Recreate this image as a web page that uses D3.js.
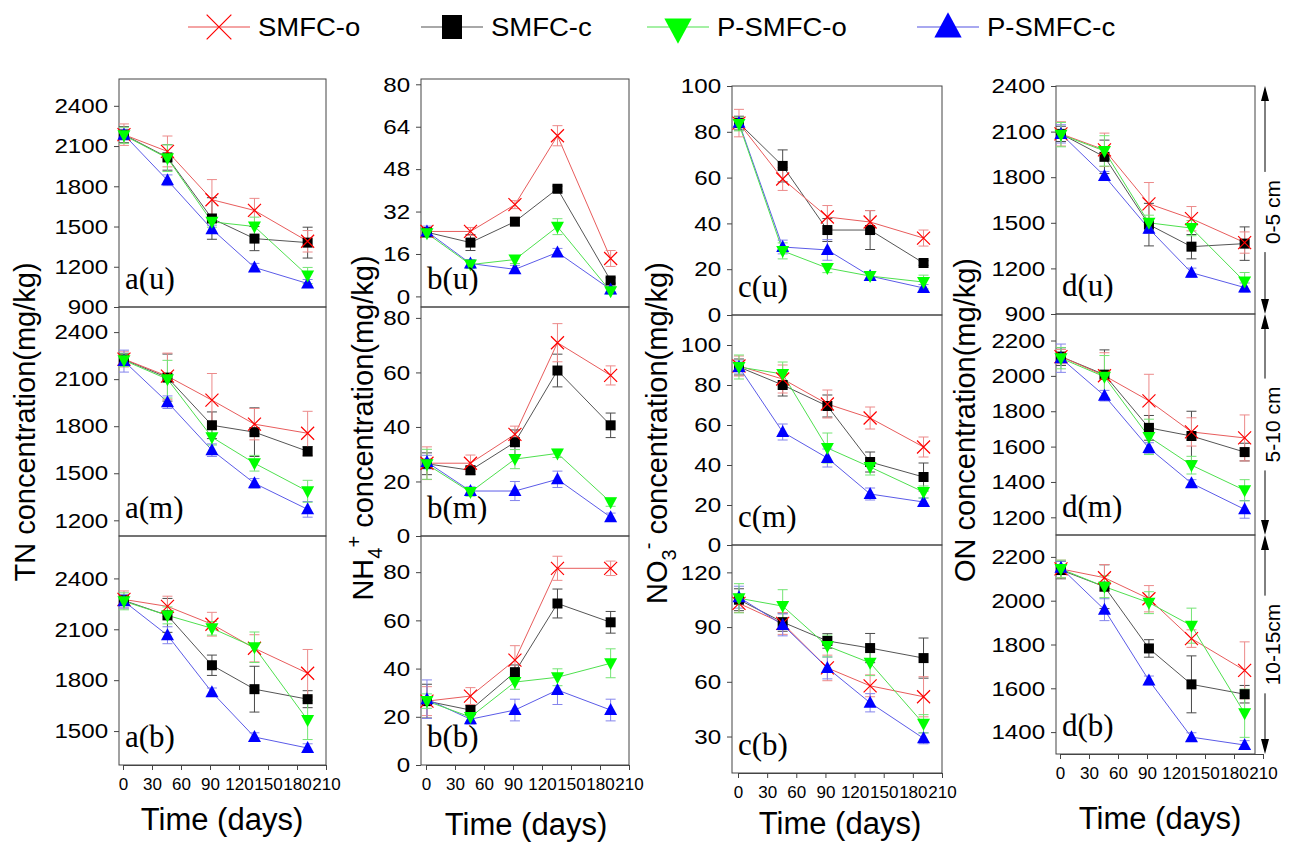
<!DOCTYPE html>
<html>
<head>
<meta charset="utf-8">
<script src="https://cdn.jsdelivr.net/npm/d3@7"></script>
<style>
  body { margin: 0; background: #fff; }
  svg { display: block; font-family: "Liberation Sans", Arial, sans-serif; }
</style>
</head>
<body>
<svg id="chart" width="1291" height="843"></svg>
<script>
// sampling days and series
const days = [1, 46, 92, 136, 191];
const seriesNames = ["SMFC-o", "SMFC-c", "P-SMFC-o", "P-SMFC-c"];
const xTicks = [0, 30, 60, 90, 120, 150, 180, 210];
const depthLabels = ["0-5 cm", "5-10 cm", "10-15cm"];

// TN (mg/kg) — series order: SMFC-o, SMFC-c, P-SMFC-o, P-SMFC-c
const tnU = [[2185, 2060, 1700, 1620, 1390], [2185, 2015, 1560, 1410, 1380], [2180, 2010, 1535, 1500, 1135], [2185, 1845, 1480, 1195, 1075]];
const tnUErr = [[80, 115, 150, 90, 80], [60, 95, 155, 90, 115], [60, 100, 40, 70, 60], [40, 40, 30, 30, 30]];
const tnM = [[2228, 2119, 1966, 1813, 1755], [2225, 2110, 1806, 1762, 1640], [2220, 2100, 1730, 1564, 1385], [2215, 1953, 1647, 1436, 1270]];
const tnMErr = [[50, 147, 170, 100, 140], [40, 150, 85, 155, 30], [40, 120, 50, 50, 70], [70, 40, 40, 30, 50]];
const tnB = [[2276, 2235, 2130, 1988, 1841], [2270, 2182, 1888, 1747, 1688], [2265, 2182, 2106, 1994, 1565], [2265, 2065, 1729, 1465, 1400]];
const tnBErr = [[50, 60, 70, 80, 140], [30, 100, 60, 135, 50], [50, 50, 40, 90, 115], [40, 50, 25, 25, 25]];

// NH4+ (mg/kg)
const nhU = [[24.5, 24.5, 34.6, 60.6, 14.3], [24.2, 20.3, 28.2, 40.6, 6.0], [23.8, 12.0, 13.9, 26.3, 1.9], [24.5, 12.4, 10.2, 16.6, 2.6]];
const nhUErr = [[1.5, 1.5, 1.5, 3.8, 3], [1.5, 3, 1.5, 1, 1], [1.5, 1.5, 1.5, 3, 1], [2, 1.5, 1.5, 1.5, 1]];
const nhM = [[26.7, 26.7, 37.3, 70.9, 58.9], [26.5, 24.1, 34.4, 60.7, 40.6], [26.3, 16.1, 28.2, 30.3, 12.4], [27.1, 16.5, 16.5, 20.8, 6.9]];
const nhMErr = [[6, 3, 3, 7, 3.5], [4, 1.5, 4.5, 6, 4.5], [5.5, 1.5, 3.5, 1.5, 1.5], [2.5, 1.5, 3.5, 3, 1.5]];
const nhB = [[26.5, 28.6, 43.5, 81.6, 81.6], [26.5, 22.8, 38.5, 67.0, 59.2], [26.5, 19.9, 34.4, 36.4, 42.2], [27.3, 19.0, 22.8, 31.1, 22.8]];
const nhBErr = [[6, 3.5, 6, 5, 3], [7, 2, 3, 6, 4.5], [3, 2, 3, 3.5, 6], [8, 2, 4.5, 6, 4.5]];

// NO3- (mg/kg)
const noU = [[83.8, 59.4, 42.8, 40.6, 33.6], [83.8, 65.1, 37.1, 37.1, 22.7], [83.4, 28.0, 20.5, 17.0, 14.4], [84.0, 29.7, 28.4, 17.0, 11.8]];
const noUErr = [[6, 5, 5, 5, 3.5], [3, 7, 5, 8.5, 1], [3, 3.5, 2, 1.5, 3], [2, 3, 4.5, 1.5, 1.5]];
const noM = [[89.5, 83.0, 70.5, 63.5, 49.0], [89.0, 80.0, 69.5, 41.5, 34.0], [89.0, 85.5, 48.5, 39.0, 26.5], [89.0, 56.5, 43.5, 25.5, 21.5]];
const noMErr = [[5, 7, 7, 5.5, 5], [4, 5.5, 5.5, 5, 7], [6, 6, 7.5, 4, 3], [3, 4, 4.5, 3, 2]];
const noB = [[103, 92.0, 67.6, 57.8, 51.8], [105, 92.7, 82.4, 78.5, 73.0], [105.8, 101.5, 79.6, 70.4, 37.0], [106.4, 91.2, 67.6, 48.5, 29.0]];
const noBErr = [[5, 6, 7, 6, 11], [6, 5, 4, 8, 11], [8, 9, 6, 7, 5], [6, 6, 6, 5, 3]];

// ON (mg/kg)
const onU = [[2085, 1980, 1625, 1527, 1370], [2085, 1934, 1488, 1343, 1363], [2080, 1973, 1500, 1465, 1113], [2085, 1808, 1461, 1172, 1074]];
const onUErr = [[80, 110, 140, 80, 70], [50, 110, 140, 80, 110], [80, 100, 50, 50, 60], [60, 30, 30, 30, 30]];
const onM = [[2109, 2001, 1859, 1683, 1649], [2109, 2007, 1706, 1660, 1569], [2100, 1995, 1655, 1495, 1353], [2100, 1888, 1592, 1393, 1245]];
const onMErr = [[40, 130, 150, 80, 130], [50, 140, 70, 140, 50], [60, 120, 100, 50, 60], [80, 30, 30, 20, 50]];
const onB = [[2145, 2105, 2009, 1827, 1682], [2140, 2064, 1782, 1618, 1573], [2145, 2064, 1991, 1886, 1486], [2150, 1959, 1636, 1377, 1341]];
const onBErr = [[40, 60, 60, 40, 130], [40, 100, 40, 130, 40], [40, 50, 50, 80, 110], [30, 50, 20, 20, 20]];

// y tick labels per panel
const tnTicks = [[900, 1200, 1500, 1800, 2100, 2400], [1200, 1500, 1800, 2100, 2400], [1500, 1800, 2100, 2400]];
const nhTicks = [[0, 16, 32, 48, 64, 80], [0, 20, 40, 60, 80], [0, 20, 40, 60, 80]];
const noTicks = [[0, 20, 40, 60, 80, 100], [0, 20, 40, 60, 80, 100], [30, 60, 90, 120]];
const onTicks = [[900, 1200, 1500, 1800, 2100, 2400], [1200, 1400, 1600, 1800, 2000, 2200], [1400, 1600, 1800, 2000, 2200]];

// ---- layout ----
const columns = [
  { x0: 123, x1: 326, left: 119, right: 326, rows: [[79, 307], [307, 536], [536, 765]],
    domains: [[900, 2600], [1100, 2560], [1300, 2650]], letter: "a", titleX: 35, titleY: 422, timeX: 222, timeY: 830 },
  { x0: 426, x1: 629, left: 421, right: 629, rows: [[79, 307], [307, 536], [536, 765]],
    domains: [[-4, 82], [0, 84], [0, 95]], letter: "b", titleX: 373, titleY: 428, timeX: 526, timeY: 835 },
  { x0: 738, x1: 942, left: 732, right: 942, rows: [[86, 315], [315, 545], [545, 773]],
    domains: [[0, 100], [0, 115], [10, 135]], letter: "c", titleX: 667, titleY: 433, timeX: 840, timeY: 834 },
  { x0: 1060, x1: 1263, left: 1056, right: 1255, rows: [[86, 314], [314, 535], [535, 754]],
    domains: [[900, 2400], [1100, 2350], [1300, 2300]], letter: "d", titleX: 975, titleY: 420, timeX: 1160, timeY: 829 }
];
const means = [[tnU, tnM, tnB], [nhU, nhM, nhB], [noU, noM, noB], [onU, onM, onB]];
const errs = [[tnUErr, tnMErr, tnBErr], [nhUErr, nhMErr, nhBErr], [noUErr, noMErr, noBErr], [onUErr, onMErr, onBErr]];
const ticks = [tnTicks, nhTicks, noTicks, onTicks];
const rowTags = ["u", "m", "b"];

const yTitles = [
  [["TN concentration(mg/kg)", 0]],
  [["NH", 0], ["4", 1], ["+", -1], [" concentration(mg/kg)", 0]],
  [["NO", 0], ["3", 1], ["-", -1], [" concentration(mg/kg)", 0]],
  [["ON concentration(mg/kg)", 0]]
];

const markerColor = ["#ff0000", "#000000", "#00ff00", "#0000ff"];
const lineColor = ["#e85c5c", "#555555", "#4fe04f", "#5b5be8"];
const errColor = ["#ec8a8a", "#4a4a4a", "#74e474", "#8484ec"];
const legendLine = ["#f4a4a4", "#a8a8a8", "#a4f0a4", "#a8a8f0"];

function markerPath(s, k) {
  k = k || 1;
  if (s === 0) { const a = 6.5 * k; return `M${-a},${-a}L${a},${a}M${-a},${a}L${a},${-a}`; }
  if (s === 1) { const a = 5 * k; return `M${-a},${-a}H${a}V${a}H${-a}Z`; }
  if (s === 2) return `M0,${7 * k}L${6.5 * k},${-5 * k}L${-6.5 * k},${-5 * k}Z`;
  return `M0,${-7 * k}L${6.5 * k},${5 * k}L${-6.5 * k},${5 * k}Z`;
}

function styleMarker(sel, s) {
  if (s === 0) sel.attr("fill", "none").attr("stroke", markerColor[s]).attr("stroke-width", 1.2);
  else sel.attr("fill", markerColor[s]).attr("stroke", "none");
}

const svg = d3.select("#chart");
const drawOrder = [1, 0, 3, 2];

columns.forEach((col, c) => {
  const x = d3.scaleLinear().domain([0, 210]).range([col.x0, col.x1]);

  col.rows.forEach(([top, bot], r) => {
    const y = d3.scaleLinear().domain(col.domains[r]).range([bot, top]);
    const g = svg.append("g");

    g.append("rect")
      .attr("x", col.left).attr("y", top)
      .attr("width", col.right - col.left).attr("height", bot - top)
      .attr("fill", "none").attr("stroke", "#444").attr("stroke-width", 1);

    const yAxis = g.append("g")
      .attr("transform", `translate(${col.left},0)`)
      .call(d3.axisLeft(y).tickValues(ticks[c][r]).tickSize(5).tickPadding(4.5).tickFormat(d3.format("d")));
    yAxis.select(".domain").remove();
    yAxis.selectAll(".tick line").attr("stroke", "#444");
    yAxis.selectAll(".tick text")
      .attr("font-size", 21).attr("fill", "#000")
      .attr("font-family", "Liberation Sans, Arial, sans-serif")
      .attr("transform", "scale(1.15,1)");

    const mean = means[c][r], err = errs[c][r];
    const line = d3.line().x((d, i) => x(days[i])).y(d => y(d));

    drawOrder.forEach(s => {
      g.append("path").datum(mean[s])
        .attr("d", line).attr("fill", "none")
        .attr("stroke", lineColor[s]).attr("stroke-width", 1);
    });

    drawOrder.forEach(s => {
      const pts = mean[s].map((v, i) => ({ x: x(days[i]), lo: y(v - err[s][i]), hi: y(v + err[s][i]) }));
      const eg = g.append("g").attr("stroke", errColor[s]).attr("stroke-width", 1);
      eg.selectAll(".bar").data(pts).join("line").attr("class", "bar")
        .attr("x1", d => d.x).attr("x2", d => d.x).attr("y1", d => d.lo).attr("y2", d => d.hi);
      eg.selectAll(".capLo").data(pts).join("line").attr("class", "capLo")
        .attr("x1", d => d.x - 5).attr("x2", d => d.x + 5).attr("y1", d => d.lo).attr("y2", d => d.lo);
      eg.selectAll(".capHi").data(pts).join("line").attr("class", "capHi")
        .attr("x1", d => d.x - 5).attr("x2", d => d.x + 5).attr("y1", d => d.hi).attr("y2", d => d.hi);
    });

    drawOrder.forEach(s => {
      g.selectAll(`.m${s}`).data(mean[s]).join("path").attr("class", `m${s}`)
        .attr("transform", (d, i) => `translate(${x(days[i])},${y(d)})`)
        .attr("d", markerPath(s))
        .call(sel => styleMarker(sel, s));
    });

    g.append("text")
      .attr("x", col.left + 6).attr("y", bot - 18)
      .attr("font-family", "Liberation Serif, Times New Roman, serif")
      .attr("font-size", 31)
      .text(`${col.letter}(${rowTags[r]})`);
  });

  // x axis on the bottom panel
  const bottom = col.rows[2][1];
  const xAxis = svg.append("g")
    .attr("transform", `translate(0,${bottom})`)
    .call(d3.axisBottom(x).tickValues(xTicks).tickSize(5).tickSizeOuter(0).tickPadding(8));
  xAxis.select(".domain").attr("stroke", "#444");
  xAxis.selectAll(".tick line").attr("stroke", "#444");
  xAxis.selectAll(".tick text").attr("font-size", 17).attr("fill", "#000")
    .attr("font-family", "Liberation Sans, Arial, sans-serif");

  svg.append("text")
    .attr("x", col.timeX).attr("y", col.timeY)
    .attr("text-anchor", "middle").attr("font-size", 31)
    .text("Time (days)");

  // rotated y title
  const t = svg.append("text")
    .attr("transform", `translate(${col.titleX},${col.titleY}) rotate(-90)`)
    .attr("text-anchor", "middle").attr("font-size", 29);
  let shift = 0;
  yTitles[c].forEach(([txt, pos]) => {
    const dy = pos === 1 ? 9 - shift : pos === -1 ? -12 - shift : -shift;
    t.append("tspan").attr("dy", dy)
      .attr("font-size", pos === 0 ? 29 : 20)
      .text(txt);
    shift = pos === 1 ? 9 : pos === -1 ? -12 : 0;
  });
});

// depth arrows on the right
const dcol = columns[3];
const ax = 1265;
dcol.rows.forEach(([top, bot], r) => {
  const mid = (top + bot) / 2 + (r === 0 ? 12 : 0);
  const g = svg.append("g");
  const lbl = g.append("text")
    .attr("transform", `translate(${ax + 15},${mid}) rotate(-90)`)
    .attr("text-anchor", "middle").attr("font-size", 21)
    .text(depthLabels[r]);
  const half = lbl.node().getComputedTextLength() / 2 + 8;
  g.append("path").attr("d", `M${ax},${top}L${ax - 4},${top + 15}L${ax + 4},${top + 15}Z`).attr("fill", "#000");
  g.append("path").attr("d", `M${ax},${bot}L${ax - 4},${bot - 15}L${ax + 4},${bot - 15}Z`).attr("fill", "#000");
  g.append("line").attr("x1", ax).attr("x2", ax).attr("y1", top + 12).attr("y2", mid - half).attr("stroke", "#000");
  g.append("line").attr("x1", ax).attr("x2", ax).attr("y1", mid + half).attr("y2", bot - 12).attr("stroke", "#000");
});

// legend
const legendX = [219, 452, 678, 948];
const legend = svg.append("g");
seriesNames.forEach((name, s) => {
  const cx = legendX[s];
  legend.append("line").attr("x1", cx - 31).attr("x2", cx + 31).attr("y1", 27).attr("y2", 27)
    .attr("stroke", legendLine[s]).attr("stroke-width", 2);
  legend.append("path")
    .attr("transform", `translate(${cx},${s === 2 ? 29 : 27})`)
    .attr("d", s === 1 ? "M-10,-12H10V12H-10Z" : markerPath(s, s === 0 ? 1.9 : 2.1))
    .call(sel => styleMarker(sel, s));
  legend.append("text")
    .attr("x", cx + 39).attr("y", 36)
    .attr("font-size", 25)
    .attr("transform", `translate(${(cx + 39) * -0.1},0) scale(1.1,1)`)
    .text(name);
});
</script>
</body>
</html>
